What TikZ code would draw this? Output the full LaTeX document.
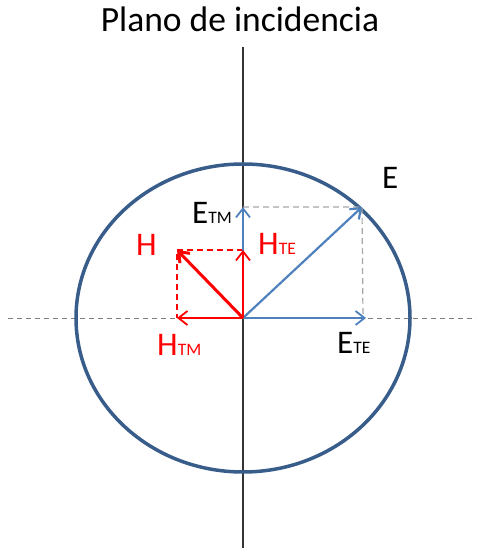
\documentclass[tikz,border=0pt]{standalone}
\usepackage{fontspec}
\setmainfont{Carlito}
\usetikzlibrary{arrows.meta}
\definecolor{eblue}{HTML}{4F81BD}
\definecolor{ellblue}{HTML}{385D8A}
\definecolor{hred}{HTML}{FF0000}
\definecolor{dgray}{HTML}{A6A6A6}
\definecolor{axgray}{HTML}{808080}
\newcommand{\sbs}[1]{{\fontsize{17.5}{17.5}\selectfont #1}}
\tikzset{
  x=1pt, y=-1pt,
  vec/.style={line width=1.8pt, -{Straight Barb[length=9pt,width=14pt]}},
  bluevec/.style={vec, draw=eblue},
  redvec/.style={vec, draw=hred},
  guide/.style={dashed, dash pattern=on 6pt off 4pt, line width=1.2pt},
  lbl/.style={anchor=base west, inner sep=0pt, font=\fontsize{33}{33}\selectfont},
}
\begin{document}
\begin{tikzpicture}
\useasboundingbox (0,0) rectangle (483,548);
\coordinate (O) at (243,318);
\coordinate (Etip) at (362,207);
\coordinate (ETMtip) at (243,207);
\coordinate (ETEtip) at (366,318);
\coordinate (ETEc) at (363,318);
\coordinate (Htip) at (177,250);
\coordinate (HTEtip) at (243,250);
\coordinate (HTMtip) at (177,318);
\coordinate (axT) at (243,47);
\coordinate (axB) at (243,548);
\coordinate (axL) at (8,318);
\coordinate (axR) at (476,318);
% title
\node[anchor=base, inner sep=0pt, font=\fontsize{35.5}{35.5}\selectfont] (title) at (240,32) {Plano de incidencia};
% axes
\draw[axgray, dashed, dash pattern=on 5pt off 4pt, line width=1pt] (axL) -- (axR);
\draw[black!80, line width=1.5pt] (axT) -- (axB);
% ellipse
\draw[ellblue, line width=3.5pt] (O) ellipse [x radius=167, y radius=154];
% guides
\draw[guide, dgray] (ETMtip) -- (Etip) -- (ETEc);
\draw[guide, hred] (HTEtip) -- (Htip) -- (HTMtip);
% vectors
\draw[bluevec] (O) -- (ETEtip);
\draw[bluevec] (O) -- (ETMtip);
\draw[bluevec, line width=2.2pt] (O) -- (Etip);
\draw[redvec] (O) -- (HTMtip);
\draw[redvec] (O) -- (HTEtip);
\draw[redvec, line width=3pt] (O) -- (Htip);
% labels
\node[lbl] (lE) at (382,188) {E};
\node[lbl] (lETM) at (192,223) {E\sbs{TM}};
\node[lbl, text=hred] (lHTE) at (258,254) {H\sbs{TE}};
\node[lbl, text=hred] (lH) at (136,255) {H};
\node[lbl, text=hred] (lHTM) at (157,355) {H\sbs{TM}};
\node[lbl] (lETE) at (337,353) {E\sbs{TE}};
\end{tikzpicture}
\end{document}
